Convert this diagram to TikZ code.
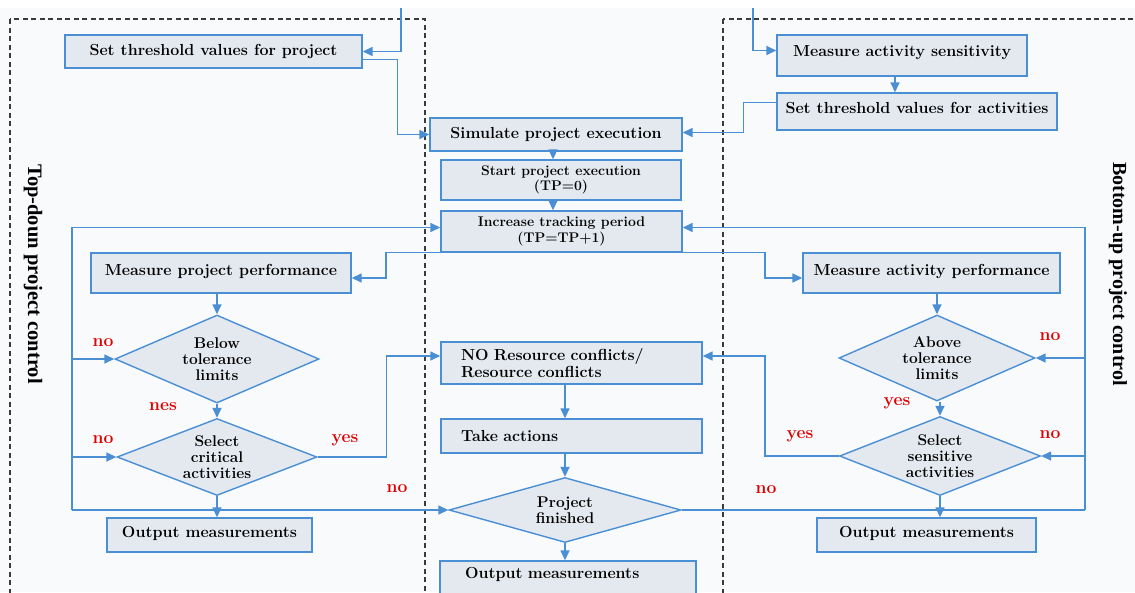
\documentclass[tikz,border=0pt]{standalone}
\usepackage{fontspec}
\newfontfamily\sidefont{Liberation Serif}
\usetikzlibrary{shapes.geometric,arrows.meta}

\definecolor{flowblue}{HTML}{4A8FD4}
\definecolor{boxfill}{HTML}{E4E9F0}
\definecolor{pagefill}{HTML}{F9FAFC}
\definecolor{dashgray}{HTML}{3A3A3A}
\definecolor{labred}{HTML}{E00000}

\tikzset{
  box/.style={rectangle,draw=flowblue,fill=boxfill,line width=1.4pt,inner sep=2pt,align=center,
    font=\fontsize{16}{17}\selectfont\bfseries},
  smallbox/.style={box,font=\fontsize{14}{15.5}\selectfont\bfseries},
  test/.style={diamond,draw=flowblue,fill=boxfill,line width=1.4pt,inner sep=0pt,aspect=2.6,align=center,
    font=\fontsize{15.5}{16}\selectfont\bfseries},
  flowline/.style={draw=flowblue,line width=1.5pt},
  flow/.style={flowline,-{Triangle[length=10pt,width=9pt]}},
  answer/.style={text=labred,font=\fontsize{17.5}{19}\selectfont\bfseries},
  frame/.style={draw=dashgray,line width=1.3pt,dash pattern=on 5pt off 3.5pt},
}

\begin{document}
\begin{tikzpicture}[x=1pt,y=-1pt]

      \useasboundingbox (0,0) rectangle (1135,592);
      \fill[pagefill] (0,0) rectangle (1135,592);
      \fill[white] (0,0) rectangle (1135,8);

      % the two control frames
      \draw[frame] (10,19) rectangle (425,620);
      \draw[frame] (723,19) rectangle (1160,620);

      \node[rotate=-90,font=\sidefont\bfseries\fontsize{20.5}{22}\selectfont] (topdown) at (33,274) {Top-doun project control};
      \node[rotate=-90,font=\sidefont\bfseries\fontsize{20}{22}\selectfont] (bottomup) at (1118,274) {Bottom-up project control};

      \begin{scope}[every node/.style={box}]
        \node[minimum width=297pt,minimum height=33pt] (setproj) at (213.5,51.5) {Set threshold values for project};
        \node[minimum width=252pt,minimum height=33pt] (simexec) at (556,134.5) {Simulate project execution};
        \node[minimum width=250pt,minimum height=41pt,text depth=9pt] (sensact) at (902,55.5) {Measure activity sensitivity};
        \node[minimum width=280pt,minimum height=37pt,text depth=7pt] (thract) at (917,111.5) {Set threshold values for activities};
        \node[minimum width=260pt,minimum height=40pt,text depth=7pt] (mpp) at (221,273) {Measure project performance};
        \node[minimum width=257pt,minimum height=40pt,text depth=7pt] (map) at (931.5,273) {Measure activity performance};
        \node[minimum width=261pt,minimum height=42pt,inner xsep=20pt,text width=221pt,align=left] (nores) at (571.5,363) {NO Resource conflicts/\\Resource conflicts};
        \node[minimum width=261pt,minimum height=34pt,inner xsep=20pt,text width=221pt,align=left] (takeact) at (571.5,436) {Take actions};
        \node[minimum width=205pt,minimum height=34pt,text depth=7pt] (outl) at (209.5,535) {Output measurements};
        \node[minimum width=219pt,minimum height=34pt,text depth=7pt] (outr) at (926.5,535) {Output measurements};
        \node[minimum width=256pt,minimum height=58pt,inner xsep=25pt,text width=206pt,align=left,text depth=34pt] (outc) at (568,590) {Output measurements};
      \end{scope}

      \begin{scope}[every node/.style={smallbox}]
        \node[minimum width=240pt,minimum height=40pt] (startexec) at (561,180) {Start project execution\\(TP=0)};
        \node[minimum width=241pt,minimum height=41pt] (inctp) at (561.5,231.5) {Increase tracking period\\(TP=TP+1)};
      \end{scope}

      \begin{scope}[every node/.style={test}]
        \node[minimum width=204pt,minimum height=88pt] (below) at (217,359) {Below\\tolerance\\limits};
        \node[minimum width=200pt,minimum height=77pt] (selcrit) at (217,457) {Select\\critical\\activities};
        \node[minimum width=232pt,minimum height=65pt] (projfin) at (565,510) {Project\\finished};
        \node[minimum width=196pt,minimum height=86pt] (above) at (937,358) {Above\\tolerance\\limits};
        \node[minimum width=201pt,minimum height=79pt] (selsens) at (940,456) {Select\\sensitive\\activities};
      \end{scope}

      \coordinate (inl) at (401,8);
      \coordinate (inr) at (753,8);
      \coordinate (lloop) at (72,510);
      \coordinate (rloop) at (1085,510);

      % set up
      \draw[flow] (inl) |- (setproj.east);
      \draw[flow] (inr) |- ([yshift=5pt]sensact.west);
      \draw[flow] ([yshift=-8pt]setproj.east) -- ++(35,0) |- (simexec.west);
      \draw[flow] ([yshift=9pt]thract.west) -- ++(-33,0) |- ([yshift=2pt]simexec.east);
      \draw[flow] ([xshift=-7pt]sensact.south) -- ([xshift=-7pt]sensact.south |- thract.north);
      \draw[flow] ([xshift=-3pt]simexec.south) -- ([xshift=-3pt]simexec.south |- startexec.north);
      \draw[flow] ([xshift=-3pt]simexec.south |- startexec.south) -- ([xshift=-3pt]simexec.south |- inctp.north);

      % tracking
      \draw[flow] (inctp.south) -- ++(-175.5,0) |- ([yshift=-5pt]mpp.east);
      \draw[flow] (inctp.south) -- ++(203.5,0) |- ([yshift=-5pt]map.west);
      \draw[flow] (below.north |- mpp.south) -- (below.north);
      \draw[flow] (below.south) -- (selcrit.north);
      \draw[flow] (selcrit.south) -- (selcrit.south |- outl.north);
      \draw[flow] (above.north |- map.south) -- (above.north);
      \draw[flow] (selsens.north |- above.south) -- (selsens.north);
      \draw[flow] (selsens.south) -- (selsens.south |- outr.north);

      % actions
      \draw[flow] (selcrit.east) -- ++(69,0) |- ([yshift=7pt]nores.west);
      \draw[flow] (selsens.west) -- ++(-74,0) |- ([yshift=7pt]nores.east);
      \draw[flow] (projfin.north |- nores.south) -- (projfin.north |- takeact.north);
      \draw[flow] (projfin.north |- takeact.south) -- (projfin.north);
      \draw[flow] (projfin.south) -- (projfin.south |- outc.north);

      % loops back
      \draw[flow] (lloop) -- (projfin.west);
      \draw[flow] (lloop) |- ([yshift=4pt]inctp.west);
      \draw[flow] (lloop |- below.west) -- (below.west);
      \draw[flow] (lloop |- selcrit.west) -- (selcrit.west);
      \draw[flowline] (projfin.east) -- (rloop);
      \draw[flow] (rloop) |- ([yshift=4pt]inctp.east);
      \draw[flow] (rloop |- above.east) -- (above.east);
      \draw[flow] (rloop |- selsens.east) -- (selsens.east);

      \begin{scope}[every node/.style={answer}]
        \node (no1) at (103,343) {no};
        \node (nes) at (163,407) {nes};
        \node (no2) at (103,440) {no};
        \node (yes1) at (345,440) {yes};
        \node (no3) at (397,489) {no};
        \node (no4) at (1050,337) {no};
        \node (yes2) at (897,403) {yes};
        \node (yes3) at (800,436) {yes};
        \node (no5) at (1050,435) {no};
        \node (no6) at (766,490) {no};
      \end{scope}

    \end{tikzpicture}
\end{document}
